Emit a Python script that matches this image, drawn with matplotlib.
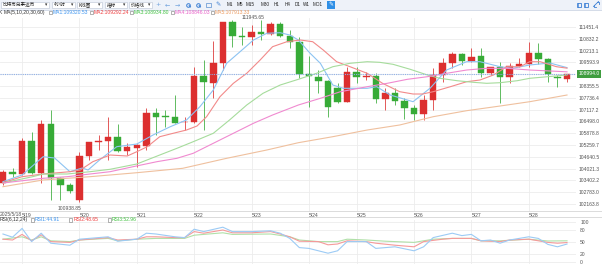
import numpy as np
import matplotlib.pyplot as plt
import matplotlib.transforms as mtransforms
from matplotlib.patches import Rectangle

plt.rcParams['font.family'] = ['Liberation Sans', 'Noto Sans CJK SC', 'DejaVu Sans']

# ---------------- data (4h candles, 2025/5/18 - 5/28) ----------------
opens = [103250, 103859, 103738, 105470, 103775, 106378, 103544, 103161, 102374, 104699,
         105402, 105486, 105664, 104945, 105118, 105208, 106923, 106766, 106745, 106451,
         106483, 108896, 108497, 109578, 111698, 110979, 110911, 111173, 111084, 111609,
         110995, 110649, 108985, 108844, 108618, 108266, 107500, 109106, 108828, 108880,
         107658, 108004, 107584, 107186, 106887, 107621, 108933, 109547, 110019, 109683,
         109930, 109054, 109337, 108812, 109421, 109510, 110087, 109772, 108828, 108723]
highs = [103948, 104053, 105627, 105942, 106572, 107096, 103581, 103266, 104893, 105433,
         105785, 106745, 106362, 105365, 105312, 107201, 107201, 107096, 107883, 106745,
         109368, 109720, 110717, 111698, 111819, 111436, 111556, 111819, 111730, 111730,
         111294, 110942, 109946, 109195, 108671, 108497, 109368, 109368, 109106, 109022,
         108235, 108235, 107710, 107359, 107883, 109284, 109809, 110155, 110071, 110334,
         110334, 109368, 109631, 109547, 109809, 110664, 110612, 109825, 108933, 108994]
lows = [103161, 103581, 103686, 103738, 103266, 102374, 102374, 102741, 102269, 104473,
        104998, 104473, 104908, 104735, 104121, 104998, 105785, 106220, 106399, 106047,
        106399, 106047, 107710, 109195, 110418, 110507, 110507, 110769, 111032, 110942,
        110334, 108760, 107270, 107973, 106713, 107448, 107500, 108497, 108671, 107448,
        107096, 107359, 106624, 106572, 106572, 107096, 108581, 109284, 109458, 109631,
        108812, 108933, 107448, 108497, 109368, 109353, 109510, 108566, 108303, 108566]
closes = [103859, 103738, 105470, 103791, 106378, 103544, 103161, 102862, 104699, 105433,
          105486, 105664, 104945, 105139, 105244, 106923, 106745, 106729, 106430, 106483,
          108896, 108550, 109578, 111698, 110979, 110911, 111173, 111084, 111609, 110995,
          110649, 108985, 108880, 108618, 107238, 107500, 109106, 108844, 108880, 107658,
          108004, 107584, 107186, 106887, 107621, 108933, 109547, 110019, 109683, 109893,
          109054, 109337, 108812, 109421, 109510, 110087, 109772, 108985, 108775, 108994]

last_price = 108994.0
high_label = "111945.65"
low_label = "100938.85"

date_idx = [2, 8, 14, 20, 26, 32, 37, 43, 49, 55]
date_lbl = ["5/19", "5/20", "5/21", "5/22", "5/23", "5/24", "5/25", "5/26", "5/27", "5/28"]

price_ticks = [111451.4, 110832.2, 110213.1, 109593.9, 108974.8, 108355.5, 107736.4,
               107117.2, 106498.0, 105878.8, 105259.7, 104640.5, 104021.3, 103402.2,
               102783.0, 102163.8]
price_tick_lbl = ["111451.4", "110832.2", "110213.1", "109593.9", "", "108355.5", "107736.4",
                  "107117.2", "106498.0", "105878.8", "105259.7", "104640.5", "104021.3",
                  "103402.2", "102783.0", "102163.8"]

# moving averages (candle index, price)
ma1_x = [0, 2, 4.2, 5.4, 7, 8.3, 8.9, 10.1, 11.9, 14, 15.7, 17.5, 19.2, 20.6, 22, 23.4, 24.8,
         26.2, 27.6, 29, 30, 30.9, 32.1, 33.2, 34.5, 35.6, 38.1, 39.1, 40.5, 42.9, 44.7, 46.4,
         48.5, 49.9, 52, 53.3, 55.1, 57.2, 59]
ma1_y = [103334, 103686, 104646, 104578, 103859, 104053, 103948, 104473, 105171, 105312,
         105785, 106220, 106572, 107270, 108146, 109547, 110155, 110769, 111121, 111152,
         111032, 110769, 110087, 109547, 108408, 108235, 108235, 108319, 107883, 107532,
         108251, 109195, 109631, 109631, 109368, 109284, 109458, 109563, 109320]
ma2_x = [0, 2, 4.2, 7, 8.1, 9.4, 11.2, 13, 14, 15.1, 16.4, 17.8, 19.2, 20.3, 21.3, 22.7, 24.1,
         25.5, 26.9, 28.2, 29.7, 31.1, 32.4, 33.5, 34.9, 36.3, 38.1, 39.7, 41.5, 42.9, 43.9, 45,
         46.8, 48.5, 49.9, 51.3, 52.7, 54.1, 55.1, 56.2, 57.9, 59]
ma2_y = [103282, 103597, 103738, 103859, 103948, 104384, 104735, 104683, 104908, 105171,
         105696, 105874, 106047, 106257, 106745, 107794, 108497, 109022, 109720, 110418,
         110680, 110769, 110680, 110245, 109631, 109368, 109022, 108497, 108057, 107936,
         107936, 108057, 108319, 108581, 108671, 108933, 109368, 109368, 109631, 109631,
         109368, 109292]
ma3_x = [0, 3.1, 4.2, 6.7, 9.1, 11.2, 14, 16.4, 18.2, 19.9, 22, 23.7, 25.5, 27.2, 29, 30.9,
         32.8, 34.5, 36.3, 38.1, 39.4, 40.8, 42.6, 44.4, 45.7, 47.5, 49.2, 50.6, 52, 53.8, 55.1, 59]
ma3_y = [103266, 103597, 103738, 103738, 103859, 103985, 104263, 104735, 105087, 105433,
         105874, 106572, 107359, 107973, 108408, 108707, 109022, 109368, 109547, 109631,
         109599, 109494, 109232, 108933, 108760, 108634, 108550, 108497, 108529, 108634,
         108760, 108935]
ma4_x = [0, 4.2, 6.7, 9.1, 11.2, 13.6, 16.1, 18.2, 19.9, 22, 24.1, 26.2, 28.2, 30.9, 33.2,
         35.3, 38.1, 40.2, 42.3, 44.4, 46.4, 48.5, 50.6, 52.7, 55.1, 59]
ma4_y = [103266, 103513, 103597, 103738, 103859, 104121, 104384, 104562, 104824, 105349,
         105874, 106399, 106834, 107359, 107710, 108057, 108319, 108497, 108707, 108844,
         109022, 109195, 109284, 109284, 109195, 109100]
ma5_x = [0, 4.2, 9.1, 14, 18.8, 23.4, 27.6, 30.9, 34.5, 38.1, 41.5, 45, 48.5, 52, 55.1, 59]
ma5_y = [103072, 103424, 103597, 103806, 104037, 104562, 104998, 105381, 105696, 106047,
         106310, 106745, 107060, 107306, 107532, 107883]

ma_legend = ["MA1:109320.53", "MA2:109292.24", "MA3:108934.80", "MA4:108846.03", "MA5:107913.33"]

# RSI(6,12,24)
rsi1_x = [0, 1, 2, 3, 4, 5, 7, 8, 11, 12, 14, 15, 16, 18, 19, 20, 21, 23, 24, 26, 28, 29, 30,
          31, 32, 34, 35, 36, 38, 39, 41, 43, 44, 45, 47, 48, 49, 50, 51, 52, 53, 55, 56, 57, 58, 59]
rsi1_y = [70, 62, 84, 51, 72, 47, 42, 57, 63, 52, 57, 72, 70, 63, 61, 82, 76, 87, 76, 76, 78,
          72, 59, 36, 34, 22, 28, 51, 51, 34, 38, 28, 38, 61, 72, 66, 69, 53, 55, 47, 55, 63,
          59, 44, 38, 44.91]
rsi2_x = [0, 1, 2, 3, 4, 5, 7, 8, 11, 12, 14, 15, 16, 18, 19, 20, 21, 23, 24, 26, 28, 29, 30,
          31, 33, 34, 35, 36, 38, 39, 41, 43, 44, 46, 47, 49, 50, 52, 53, 55, 57, 58, 59]
rsi2_y = [57, 55, 69, 53, 68, 51, 49, 55, 61, 55, 57, 63, 63, 61, 61, 76, 72, 80, 73, 73, 76,
          70, 63, 52, 51, 43, 45, 53, 51, 47, 42, 38, 51, 57, 59, 59, 53, 51, 55, 57, 49, 47, 48.65]
rsi3_x = [0, 2, 3, 4, 5, 7, 8, 11, 12, 14, 16, 19, 20, 23, 24, 28, 30, 31, 33, 35, 36, 38, 40,
          43, 45, 47, 49, 50, 52, 55, 57, 59]
rsi3_y = [57, 63, 55, 63, 53, 51, 55, 59, 53, 57, 59, 59, 67, 73, 69, 70, 63, 55, 51, 51, 57,
          55, 52, 49, 57, 59, 59, 53, 53, 57, 52.5, 52.96]
rsi_ticks = [100, 80, 50, 20, 0]
rsi_legend = ["RSI1:44.91", "RSI2:48.65", "RSI3:52.96"]

# ---------------- styling ----------------
UP = "#dc2f2f"
DOWN = "#37ab37"
MA_COLORS = ["#8cc3f2", "#f28a8a", "#a6dc9c", "#f08ad0", "#efc09e"]
MA_TEXT = ["#3d95f0", "#f03c3c", "#41c241", "#e860c8", "#ec9a5e"]
RSI_COLORS = ["#9ccbf5", "#f59a9a", "#b0e0a8"]
RSI_TEXT = ["#3d95f0", "#f03c3c", "#41c241"]
GRID = "#ececec"
TXT = "#555555"
FS = 3.6

W, H = 602, 265
fig = plt.figure(figsize=(W / 100, H / 100), dpi=100)
fig.patch.set_facecolor("white")


def px_axes(x0, y0, x1, y1):
    return fig.add_axes([x0 / W, 1 - y1 / H, (x1 - x0) / W, (y1 - y0) / H])


# main candle chart
ax = px_axes(0, 18, 576, 211)
ax.set_xlim(-0.31, 59.94)
ax.set_ylim(101797, 111924)
for s in ax.spines.values():
    s.set_visible(False)

ax.set_yticks(price_ticks)
ax.set_yticklabels(price_tick_lbl)
ax.yaxis.tick_right()
ax.set_xticks(date_idx)
ax.set_xticklabels(date_lbl, ha="left")
ax.tick_params(length=0, labelsize=FS, colors=TXT)
ax.tick_params(axis="y", pad=2.2)
ax.tick_params(axis="x", pad=1.6)
ax.grid(True, color=GRID, lw=0.6)
ax.set_axisbelow(True)

idx = np.arange(len(opens))
for i in idx:
    o, h, l, c = opens[i], highs[i], lows[i], closes[i]
    col = UP if c >= o else DOWN
    ax.vlines(i, l, h, color=col, lw=0.7, alpha=0.8, zorder=3)
    ax.bar(i, max(abs(c - o), 25), bottom=min(o, c), width=0.68, color=col,
           edgecolor=col, lw=0.3, zorder=4)

for (xs, ys), col in zip([(ma1_x, ma1_y), (ma2_x, ma2_y), (ma3_x, ma3_y),
                          (ma4_x, ma4_y), (ma5_x, ma5_y)], MA_COLORS):
    ax.plot(xs, ys, color=col, lw=0.8, zorder=5)

ax.axhline(last_price, color="#8fb0e8", lw=0.8, ls=(0, (1, 1)), zorder=6)
blend = mtransforms.blended_transform_factory(ax.transAxes, ax.transData)
ax.text(1.004, last_price, f"{last_price:.1f}", transform=blend, fontsize=FS, color="white",
        va="center", ha="left", clip_on=False, zorder=10,
        bbox=dict(boxstyle="square,pad=0.35", fc="#3f9d3f", ec="none"))

ax.text(25.0, 111945.65, high_label, fontsize=FS, color=TXT, va="center", ha="left",
        clip_on=False)
ax.annotate(low_label, xy=(5.75, min(lows)), xytext=(0, -5), textcoords="offset points",
            fontsize=FS, color=TXT, va="center", ha="left", annotation_clip=False)

# RSI panel
ar = px_axes(0, 220, 576, 264)
ar.set_xlim(-0.31, 59.94)
ar.set_ylim(-5, 105)
for s in ar.spines.values():
    s.set_visible(False)
ar.set_yticks(rsi_ticks)
ar.yaxis.tick_right()
ar.set_xticks(date_idx)
ar.set_xticklabels([])
ar.tick_params(length=0, labelsize=FS, colors=TXT)
ar.tick_params(axis="y", pad=3.0)
ar.grid(True, color=GRID, lw=0.6)
ar.set_axisbelow(True)
for (xs, ys), col in zip([(rsi3_x, rsi3_y), (rsi2_x, rsi2_y), (rsi1_x, rsi1_y)],
                         RSI_COLORS[::-1]):
    ar.plot(xs, ys, color=col, lw=0.8)

# overlay for the platform chrome (toolbar, legends, separators)
ov = fig.add_axes([0, 0, 1, 1], zorder=20)
ov.set_xlim(0, W)
ov.set_ylim(H, 0)
ov.axis("off")
ov.patch.set_alpha(0)

ov.add_patch(Rectangle((0, 0), W, 9.5, fc="#eef2f9", ec="none"))
ov.plot([0, W], [9.5, 9.5], color="#cdd6e4", lw=0.6)
boxes = [(1, 48, "比特币兑泰达币"), (52, 23, "4小时"), (77, 25, "K线图"),
         (105, 22, "指标"), (129, 23, "价格线")]
for x0, w, t in boxes:
    ov.add_patch(Rectangle((x0, 1.6), w, 6.4, fc="white", ec="#b9c3d3", lw=0.4))
    ov.text(x0 + 2, 4.9, t, fontsize=3.3, color="#222222", va="center", ha="left")
    ov.text(x0 + w - 2.5, 4.9, "▾", fontsize=3.3, color="#333333", va="center", ha="center",
            family="DejaVu Sans")
icons = [(158, "+"), (167, "←"), (177, "→")]
for x0, t in icons:
    ov.text(x0, 4.8, t, fontsize=4.5, color="#6c9fdc", va="center", ha="center",
            family="DejaVu Sans")
for x0 in (188, 198):
    ov.plot([x0], [4.5], marker="o", ms=2.6, mfc="none", mec="#3b7fd4", mew=0.7)
    ov.plot([x0 + 1.2, x0 + 2.4], [5.7, 6.9], color="#3b7fd4", lw=0.8)
ov.add_patch(Rectangle((205.5, 2.8), 5, 4, fc="none", ec="#5b8fd0", lw=0.5))
ov.text(218, 4.8, "✎", fontsize=4.5, color="#3b7fd4", va="center", ha="center",
        family="DejaVu Sans")
periods = [(229.5, "M1"), (240, "M5"), (250, "M15"), (265, "M30"), (277, "H1"),
           (287.5, "H4"), (297.5, "D1"), (306.5, "W1"), (318, "MO1")]
for x0, t in periods:
    ov.text(x0, 5, t, fontsize=3.3, color="#222222", va="center", ha="center")
ov.add_patch(Rectangle((327, 1.2), 8, 7.4, fc="#2f8fe6", ec="none"))
ov.text(331, 4.9, "✎", fontsize=4.2, color="white", va="center", ha="center",
        family="DejaVu Sans")
for x0 in (576.5, 584):
    ov.add_patch(Rectangle((x0, 2.8), 4, 4, fc="none", ec="#3b7fd4", lw=0.6))
    ov.plot([x0 + 1.3, x0 + 1.3], [2.8, 6.8], color="#3b7fd4", lw=0.5)
# expand icon drawn as two small diagonal arrows
ov.plot([593.5, 598.5], [6.5, 1.5], color="#3b7fd4", lw=0.6)
ov.plot([596.5, 598.5, 598.5], [1.5, 1.5, 3.5], color="#3b7fd4", lw=0.6)
ov.plot([593.5, 593.5, 595.5], [4.5, 6.5, 6.5], color="#3b7fd4", lw=0.6)

# MA legend row
ov.text(-1, 12.8, "K", fontsize=FS, color="#333333", va="center", ha="left")
ov.text(4, 12.8, "MA(5,10,20,30,60)", fontsize=FS, color="#333333", va="center", ha="left")
for k, (lbl, col) in enumerate(zip(ma_legend, MA_TEXT)):
    x0 = 49 + k * 40.5
    ov.add_patch(Rectangle((x0, 11), 3, 3.4, fc="white", ec="#777777", lw=0.4))
    ov.text(x0 + 4, 12.8, lbl, fontsize=FS, color=col, va="center", ha="left")

# date strip separators
ov.plot([0, W], [211, 211], color="#d6d6d6", lw=0.6)
ov.plot([0, W], [217.3, 217.3], color="#d6d6d6", lw=0.6)
ov.text(0, 214.3, "2025/5/18", fontsize=FS, color=TXT, va="center", ha="left")

# RSI legend row
ov.text(0, 219.8, "RSI(6,12,24)", fontsize=FS, color="#333333", va="center", ha="left")
for k, (lbl, col) in enumerate(zip(rsi_legend, RSI_TEXT)):
    x0 = 31 + k * 38.3
    ov.add_patch(Rectangle((x0, 218.1), 3, 3.4, fc="white", ec="#777777", lw=0.4))
    ov.text(x0 + 4, 219.8, lbl, fontsize=FS, color=col, va="center", ha="left")

fig.savefig("out.png", dpi=100)
